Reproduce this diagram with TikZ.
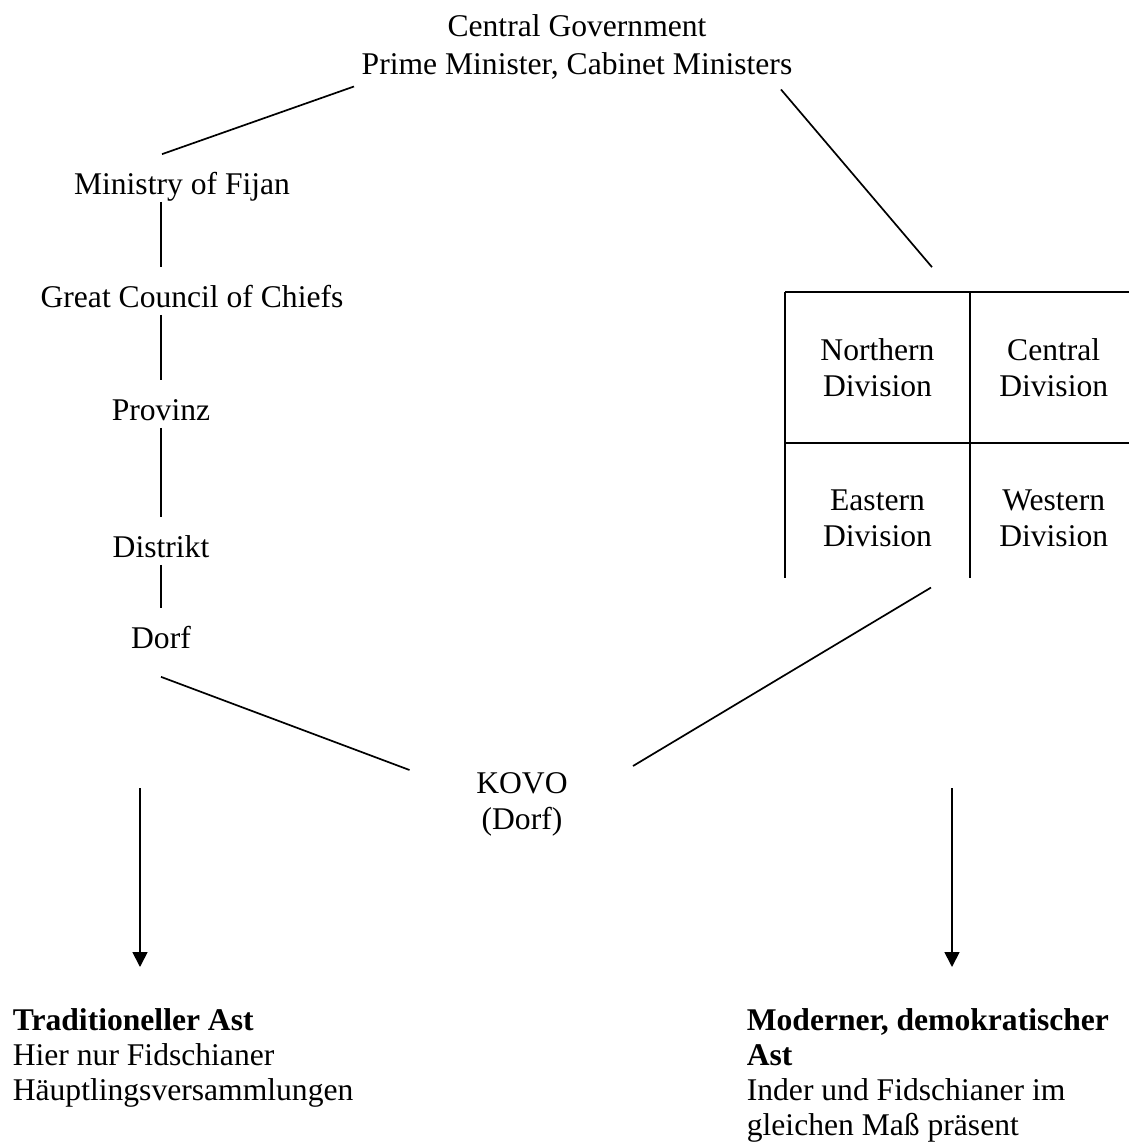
\documentclass[tikz,border=0pt]{standalone}
\usepackage{fontspec}
\setmainfont{Liberation Serif}
\usepackage{tikz}
\usetikzlibrary{arrows.meta, positioning}

\begin{document}
\begin{tikzpicture} [x=1pt, y=-1pt, line width=1.7pt, lbl/.style ={inner sep=0pt, align=center, font=\fontsize{31.6}{36}\selectfont}, one/.style ={lbl, text height=22pt, text depth=7pt, anchor=base}, cell/.style ={lbl, minimum height=149pt}, branch/.style ={lbl, align=left, anchor=north west, font=\fontsize{31.6}{35}\selectfont}, link/.style ={shorten >=17pt}, arrowdown/.style ={-{Triangle[width=15pt,length=15pt]}, shorten >=41pt}]
		\useasboundingbox (0,0) rectangle (1129,1144);
		\node[lbl, anchor=north] (gov) at (577,14) {Central Government\\[2pt]Prime Minister, Cabinet Ministers};
		% traditional column
		\node[one] (min) at (182,194) {Ministry of Fijan};
		\node[one] (gcc) at (192,307) {Great Council of Chiefs};
		\node[one] (prov) at (161,420) {Provinz};
		\node[one] (dist) at (161,557) {Distrikt};
		\node[one] (dorf) at (161,648) {Dorf};
		% divisions
		\node[cell, minimum width=183pt] (nd) at (877.5,367.5) {Northern\\Division};
		\node[cell, minimum width=166pt] (cd) [right=0pt of nd] {Central\\Division};
		\node[cell, minimum width=183pt] (ed) [below=0pt of nd] {Eastern\\Division};
		\node[cell, minimum width=166pt] (wd) [right=0pt of ed] {Western\\Division};
		\draw (nd.north west) -- (cd.north east);
		\draw (nd.south west) -- (cd.south east);
		\draw (nd.north west) -- ([yshift=16pt]ed.south west);
		\draw (nd.north east) -- ([yshift=16pt]ed.south east);
		\node[lbl, anchor=north] (kovo) at (522,772) {KOVO\\(Dorf)};
		% branches
		\node[branch] (trad) at (12,1008) {\textbf{Traditioneller Ast}\\Hier nur Fidschianer\\Häuptlingsversammlungen};
		\node[branch] (mod) at (746,1008) {\textbf{Moderner, demokratischer}\\\textbf{Ast}\\Inder und Fidschianer im\\gleichen Maß präsent};
		\coordinate (ltop) at (140,788);
		\coordinate (rtop) at (952,788);
		% links
		\draw ([xshift=-223pt,yshift=-6pt]gov.south) -- ([xshift=-20pt,yshift=17pt]min.north);
		\draw ([xshift=204pt,yshift=-9pt]gov.south) -- ([xshift=54.5pt,yshift=25pt]nd.north);
		\draw[link] (min.south -| prov.south) -- (gcc.north -| prov.north);
		\draw[link] (gcc.south -| prov.south) -- (prov.north);
		\draw[link] (prov.south) -- (dist.north);
		\draw[link] (dist.south) -- (dorf.north);
		\draw ([yshift=-21pt]dorf.south) -- ([xshift=-66pt,yshift=2pt]kovo.north west);
		\draw ([xshift=53.5pt,yshift=6pt]ed.south) -- ([xshift=64.5pt,yshift=6pt]kovo.north east);
		\draw[arrowdown] (ltop) -- (ltop |- trad.north);
		\draw[arrowdown] (rtop) -- (rtop |- mod.north);
	\end{tikzpicture}
\end{document}
